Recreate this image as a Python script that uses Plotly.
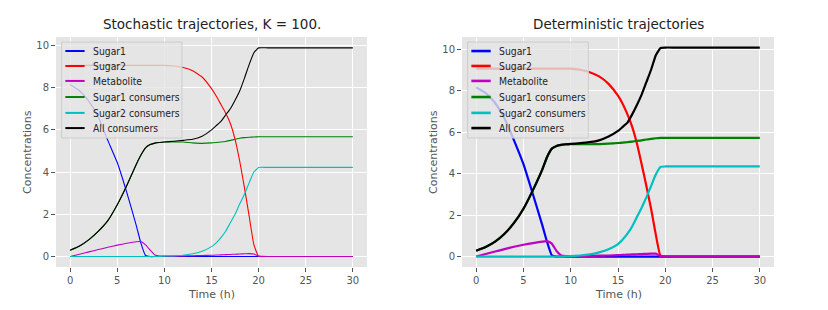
import plotly.graph_objects as go

# ---------------- data ----------------
time_h = [0, 1, 2, 3, 4, 5, 6, 7, 7.5, 8, 8.5, 9, 9.5, 10, 11, 12, 13, 14, 15, 15.5,
          16, 16.5, 17, 17.5, 18, 18.5, 19, 19.5, 20, 21, 30]

series_names = ["Sugar1", "Sugar2", "Metabolite", "Sugar1 consumers",
                "Sugar2 consumers", "All consumers"]
series_colors = ["#0000FF", "#FF0000", "#BF00BF", "#008000", "#00BFBF", "#000000"]

# Stochastic (left)
sugar1_stoch = [8.15, 7.85, 7.35, 6.6, 5.5, 4.45, 3.05, 1.5, 0.65, 0.05, 0, 0, 0, 0, 0, 0, 0, 0, 0, 0,
                0, 0, 0, 0, 0, 0, 0, 0, 0, 0, 0]
sugar2_stoch = [9.05, 9.05, 9.05, 9.05, 9.05, 9.05, 9.05, 9.05, 9.05, 9.05, 9.05, 9.05, 9.05, 9.05,
                9.02, 8.95, 8.8, 8.5, 7.95, 7.6, 7.2, 6.8, 6.3, 5.55, 4.5, 3.25, 1.9, 0.55, 0.02, 0, 0]
metab_stoch = [0, 0.11, 0.22, 0.33, 0.44, 0.54, 0.63, 0.7, 0.71, 0.55, 0.3, 0.07, 0.02, 0.02, 0.02,
               0.03, 0.04, 0.05, 0.06, 0.07, 0.08, 0.09, 0.1, 0.11, 0.12, 0.13, 0.14, 0.12, 0.02, 0, 0]
s1cons_stoch = [0.3, 0.5, 0.8, 1.2, 1.7, 2.45, 3.35, 4.35, 4.8, 5.15, 5.3, 5.37, 5.4, 5.42, 5.43,
                5.42, 5.38, 5.36, 5.38, 5.4, 5.42, 5.45, 5.5, 5.55, 5.6, 5.63, 5.65, 5.66, 5.67, 5.67, 5.67]
s2cons_stoch = [0, 0, 0, 0, 0, 0, 0, 0, 0, 0, 0, 0, 0.01, 0.02, 0.03, 0.06, 0.13, 0.25, 0.47, 0.65,
                0.9, 1.2, 1.6, 2.0, 2.5, 2.95, 3.5, 4.0, 4.22, 4.22, 4.22]
allcons_stoch = [0.3, 0.5, 0.8, 1.2, 1.7, 2.45, 3.35, 4.35, 4.8, 5.15, 5.3, 5.37, 5.4, 5.42, 5.46,
                 5.5, 5.55, 5.7, 6.0, 6.2, 6.4, 6.7, 7.0, 7.4, 7.85, 8.45, 9.1, 9.65, 9.88, 9.88, 9.88]

# Deterministic (right)
sugar1_det = [8.15, 7.88, 7.4, 6.65, 5.6, 4.45, 3.0, 1.5, 0.7, 0.06, 0, 0, 0, 0, 0, 0, 0, 0, 0, 0,
              0, 0, 0, 0, 0, 0, 0, 0, 0, 0, 0]
sugar2_det = [9.05, 9.05, 9.05, 9.05, 9.05, 9.05, 9.05, 9.05, 9.05, 9.05, 9.05, 9.05, 9.05, 9.05,
              9.0, 8.88, 8.68, 8.32, 7.75, 7.35, 6.85, 6.25, 5.45, 4.45, 3.4, 2.3, 1.05, 0.02, 0, 0, 0]
metab_det = [0, 0.12, 0.24, 0.36, 0.47, 0.57, 0.65, 0.72, 0.74, 0.62, 0.27, 0.05, 0.02, 0.01, 0.02,
             0.03, 0.04, 0.05, 0.07, 0.08, 0.09, 0.1, 0.11, 0.12, 0.13, 0.14, 0.14, 0.03, 0, 0, 0]
s1cons_det = [0.28, 0.46, 0.72, 1.1, 1.62, 2.3, 3.2, 4.2, 4.8, 5.2, 5.33, 5.38, 5.4, 5.41, 5.41,
              5.41, 5.42, 5.44, 5.47, 5.49, 5.51, 5.54, 5.57, 5.6, 5.64, 5.67, 5.7, 5.72, 5.72, 5.72, 5.72]
s2cons_det = [0, 0, 0, 0, 0, 0, 0, 0, 0, 0, 0, 0, 0.01, 0.02, 0.05, 0.1, 0.2, 0.35, 0.6, 0.82,
              1.1, 1.45, 1.9, 2.35, 2.85, 3.4, 3.95, 4.32, 4.34, 4.34, 4.34]
allcons_det = [0.28, 0.46, 0.72, 1.1, 1.62, 2.3, 3.2, 4.2, 4.8, 5.2, 5.33, 5.38, 5.41, 5.43, 5.46,
               5.51, 5.6, 5.78, 6.05, 6.25, 6.45, 6.85, 7.3, 7.8, 8.4, 9.0, 9.7, 10.05, 10.07, 10.07, 10.07]

x_ticks = [0, 5, 10, 15, 20, 25, 30]
y_ticks = [0, 2, 4, 6, 8, 10]
titles = ["Stochastic trajectories, K = 100.", "Deterministic trajectories"]
x_label = "Time (h)"
y_label = "Concentrations"

# ---------------- figure ----------------
W, H = 828, 310
FONT = "DejaVu Sans"
LEG_FONT = "DejaVu Sans Condensed, DejaVu Sans"
fig = go.Figure()

panels = [
    (["x", "y"], [sugar1_stoch, sugar2_stoch, metab_stoch, s1cons_stoch, s2cons_stoch, allcons_stoch], 1.1, 2.0),
    (["x2", "y2"], [sugar1_det, sugar2_det, metab_det, s1cons_det, s2cons_det, allcons_det], 2.2, 2.6),
]
for (xa, ya), data, lw, legw in panels:
    for name, col, vals in zip(series_names, series_colors, data):
        fig.add_trace(go.Scatter(x=time_h, y=vals, mode="lines", name=name, xaxis=xa, yaxis=ya,
                                 line=dict(color=col, width=lw, shape="spline", smoothing=0.4),
                                 showlegend=False, hoverinfo="skip"))

px_dom_x = [(56, 367), (462, 774)]
plot_top, plot_bot = 37, 267
ydom = [1 - plot_bot / H, 1 - plot_top / H]

axis_common = dict(
    showgrid=True, gridcolor="white", gridwidth=1, zeroline=False, showline=False,
    ticks="outside", ticklen=4, tickwidth=1, tickcolor="#555555",
    tickfont=dict(family=FONT, size=10, color="#555555"),
)
yr = [[-0.495, 10.395], [-0.504, 10.578]]
for i, (ax_x, ax_y) in enumerate([("xaxis", "yaxis"), ("xaxis2", "yaxis2")]):
    x0, x1 = px_dom_x[i]
    xsuf = "" if i == 0 else "2"
    fig.update_layout(**{
        ax_x: dict(domain=[x0 / W, x1 / W], range=[-1.5, 31.5], tickvals=x_ticks,
                   anchor="y" + xsuf, **axis_common),
        ax_y: dict(domain=ydom, range=yr[i], tickvals=y_ticks,
                   anchor="x" + xsuf, **axis_common),
    })

annotations = []
shapes = []
legend_rows = [0.939, 0.874, 0.809, 0.739, 0.670, 0.604]
for i in range(2):
    x0, x1 = px_dom_x[i]
    cx = (x0 + x1) / 2 / W
    xsuf = "" if i == 0 else "2"
    annotations.append(dict(text=titles[i], x=cx, y=1 - 24 / H, xref="paper", yref="paper",
                            xanchor="center", yanchor="middle", showarrow=False,
                            font=dict(family=FONT, size=13.5, color="#222222")))
    annotations.append(dict(text=x_label, x=cx, y=1 - 294 / H, xref="paper", yref="paper",
                            xanchor="center", yanchor="middle", showarrow=False,
                            font=dict(family=FONT, size=11, color="#555555")))
    annotations.append(dict(text=y_label, x=(x0 - 28) / W, y=1 - 152 / H, xref="paper", yref="paper",
                            xanchor="center", yanchor="middle", showarrow=False, textangle=-90,
                            font=dict(family=FONT, size=11, color="#555555")))
    xr = "x" + xsuf + " domain"
    yrf = "y" + xsuf + " domain"
    shapes.append(dict(type="rect", xref=xr, yref=yrf, x0=0.018, x1=0.405, y0=0.561, y1=0.978,
                       fillcolor="rgba(229,229,229,0.8)", line=dict(color="#CCCCCC", width=1),
                       layer="above"))
    lw = panels[i][3]
    for name, col, yy in zip(series_names, series_colors, legend_rows):
        shapes.append(dict(type="line", xref=xr, yref=yrf, x0=0.03, x1=0.092, y0=yy, y1=yy,
                           line=dict(color=col, width=lw), layer="above"))
        annotations.append(dict(text=name, x=0.113, y=yy, xref=xr, yref=yrf, xanchor="left",
                                yanchor="middle", showarrow=False,
                                font=dict(family=LEG_FONT, size=10.3, color="#222222")))

fig.update_layout(
    width=W, height=H, margin=dict(l=0, r=0, t=0, b=0),
    paper_bgcolor="white", plot_bgcolor="#E5E5E5",
    annotations=annotations, shapes=shapes, showlegend=False,
    font=dict(family=FONT), hovermode=False,
)

fig.write_html("out.html", config={"displayModeBar": False, "staticPlot": True},
               post_script="document.body.style.margin='0';document.body.style.overflow='hidden';")
